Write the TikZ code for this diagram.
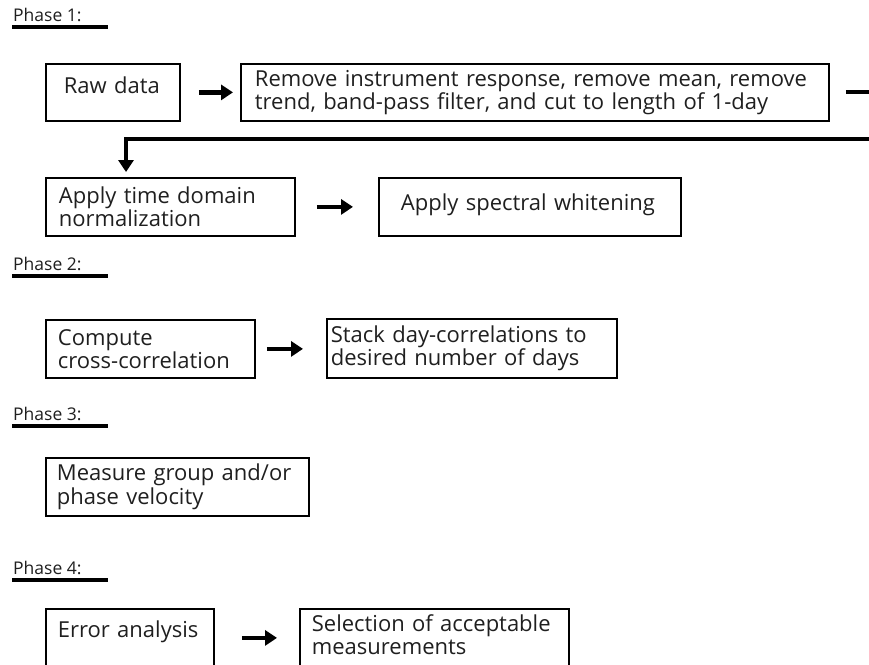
\documentclass[tikz,border=0pt]{standalone}
\usepackage{fontspec}
\setmainfont{Open Sans}
\usetikzlibrary{arrows.meta}
\tikzset{
  box/.style={draw, line width=1.8pt, anchor=north west, align=left, inner ysep=0pt,
    text=black!88, font=\fontsize{22}{23.5}\selectfont},
  flow/.style={line width=4.5pt, -{Triangle[length=12pt,width=15pt]}},
  bar/.style={line width=4pt},
  phase/.style={anchor=west, inner sep=0pt, text=black!88, font=\fontsize{17.5}{19}\selectfont},
}
\begin{document}
\begin{tikzpicture}[x=1pt,y=-1pt]
\useasboundingbox (0,0) rectangle (869,664);
\clip (0,0) rectangle (869,664);
% phase headings
\foreach \n/\y in {1/15,2/264,3/414,4/568}{
  \node[phase] (ph\n) at (13,\y) {Phase \n:};
  \draw[bar] (12,\y+12) -- ++(96,0);
}
% phase 1
\node[box, text width=560pt, inner xsep=14pt, minimum height=57pt] (remove) at (240,63)
  {Remove instrument response, remove mean, remove\\trend, band-pass filter, and cut to length of 1-day};
\node[box, text width=98pt, inner xsep=18pt, minimum height=57pt, text depth=14pt] (raw) at (45,63) {Raw data};
\node[box, text width=223pt, inner xsep=13pt, minimum height=58pt] (time) at (45,177)
  {Apply time domain\\normalization};
\node[box, text width=258pt, inner xsep=22pt, minimum height=58pt, text depth=10pt] (spectral) at (378,177)
  {Apply spectral whitening};
\coordinate (edge1) at (869,92);
\coordinate (edge2) at (869,139);
\coordinate (bend) at (126,139);
\draw[flow, shorten <=18pt, shorten >=7pt] (raw) -- (remove);
\draw[bar] ([xshift=16pt]remove.east |- edge1) -- (edge1);
\draw[flow, shorten >=5pt] (edge2) -- (bend) -- (bend |- time.north);
\draw[flow, shorten <=21pt, shorten >=25pt] (time) -- (spectral);
% phase 2
\node[box, text width=185pt, inner xsep=12pt, minimum height=58pt] (compute) at (45,319)
  {Compute\\cross-correlation};
\node[box, text width=282pt, inner xsep=4pt, minimum height=59pt] (stack) at (326,318)
  {Stack day-correlations to\\desired number of days};
\draw[flow, shorten <=11pt, shorten >=23pt] (compute.east) -- (compute.east -| stack.west);
% phase 3
\node[box, text width=241pt, inner xsep=11pt, minimum height=58pt] (measure) at (45,457)
  {Measure group and/or\\phase velocity};
% phase 4
\node[box, text width=144pt, inner xsep=12pt, minimum height=58pt, text depth=18pt] (error) at (45,608)
  {Error analysis};
\node[box, text width=245pt, inner xsep=12pt, minimum height=58pt, text depth=30pt] (selection) at (299,608)
  {Selection of acceptable\\measurements};
\draw[flow, shorten <=27pt, shorten >=22pt] (error) -- (selection);
\end{tikzpicture}
\end{document}
